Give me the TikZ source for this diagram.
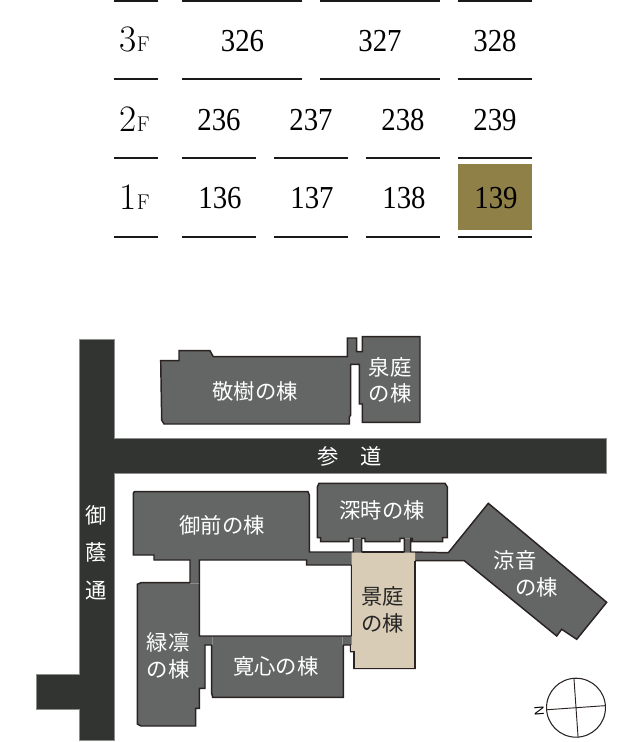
\documentclass[tikz,border=0pt]{standalone}
\usepackage{fontspec}
\newfontfamily\roomfont[FakeStretch=0.9]{Liberation Serif}
\newfontfamily\mapfont{Noto Sans CJK JP}
\setsansfont{Liberation Sans}
\definecolor{roadgray}{HTML}{323432}
\definecolor{roadedge}{HTML}{8C8E8C}
\definecolor{hallgray}{HTML}{646665}
\definecolor{hallline}{HTML}{2A2322}
\definecolor{hallseam}{HTML}{8A8C8A}
\definecolor{tanfill}{HTML}{D8CCB6}
\definecolor{goldfill}{HTML}{8F8048}
\tikzset{
  floorrule/.style={line width=1.7pt, black!90},
  room/.style={inner sep=0pt, font=\roomfont\fontsize{24}{24}\selectfont},
  floorlab/.style={inner sep=0pt, anchor=base west},
  hall/.style={inner sep=0pt, align=center, text=white, font=\mapfont\fontsize{16}{20}\selectfont},
  hallstroke/.style={draw=hallline, line width=1.1pt},
  seam/.style={line width=.5pt, hallseam}
}
\newcommand{\floornum}[1]{{\rmfamily\fontsize{28}{28}\selectfont #1}{\rmfamily\fontsize{16}{16}\selectfont F}}
\begin{document}
\begin{tikzpicture}[x=.75pt, y=-.75pt]
	\useasboundingbox (0, 0) rectangle (642, 742);

	% room table
	\draw[floorrule] (114, .8) -- (158, .8);
	\draw[floorrule] (182, .8) -- (302, .8);
	\draw[floorrule] (320, .8) -- (440, .8);
	\draw[floorrule] (458, .8) -- (532, .8);
	\draw[floorrule] (114, 79) -- (158, 79);
	\draw[floorrule] (182, 79) -- (302, 79);
	\draw[floorrule] (320, 79) -- (440, 79);
	\draw[floorrule] (458, 79) -- (532, 79);
	\draw[floorrule] (114, 158) -- (158, 158);
	\draw[floorrule] (182, 158) -- (256, 158);
	\draw[floorrule] (274, 158) -- (348, 158);
	\draw[floorrule] (366, 158) -- (440, 158);
	\draw[floorrule] (458, 158) -- (532, 158);
	\draw[floorrule] (114, 237) -- (158, 237);
	\draw[floorrule] (182, 237) -- (256, 237);
	\draw[floorrule] (274, 237) -- (348, 237);
	\draw[floorrule] (366, 237) -- (440, 237);
	\draw[floorrule] (458, 237) -- (532, 237);
	\fill[goldfill] (458, 164) rectangle (532, 230);

	\node[floorlab] (f3) at (119.5, 52) {\floornum{3}};
	\node[floorlab] (f2) at (119.5, 131) {\floornum{2}};
	\node[floorlab] (f1) at (119.5, 209.5) {\floornum{1}};

	\node[room] (r326) at (242.5, 41) {326};
	\node[room] (r327) at (380, 41) {327};
	\node[room] (r328) at (495, 41) {328};
	\node[room] (r236) at (219, 120) {236};
	\node[room] (r237) at (311, 120) {237};
	\node[room] (r238) at (403, 120) {238};
	\node[room] (r239) at (495, 120) {239};
	\node[room] (r136) at (220, 198.5) {136};
	\node[room] (r137) at (312, 198.5) {137};
	\node[room] (r138) at (404, 198.5) {138};
	\node[room] (r139) at (496, 198.5) {139};

	% roads
	\draw[fill=roadgray, draw=roadedge, line width=.5pt] (79.5, 339) -- (114, 339) -- (114, 438.3)
		-- (606.7, 438.3) -- (606.7, 473.3) -- (114, 473.3) -- (114, 740) -- (79.5, 740)
		-- (79.5, 709.3) -- (36, 709.3) -- (36, 674.3) -- (79.5, 674.3) -- cycle;

	% north block, one outline
	\draw[fill=hallgray, hallstroke] (160.7, 360.7) -- (179, 360.7) -- (179, 350.7)
		-- (210, 350.7) -- (213.3, 356.7) -- (347.3, 356.7) -- (347.3, 338) -- (356.7, 338) -- (356.7, 351.7)
		-- (362.3, 351.7) -- (362.3, 336.7) -- (420, 336.7) -- (420, 422.3) -- (362.3, 422.3) -- (362.3, 404)
		-- (359.3, 404) -- (359.3, 364.3) -- (350.7, 364.3) -- (350.7, 415) -- (349.3, 417) -- (349.3, 424)
		-- (164, 424) -- (161.7, 420) -- cycle;

	% south block: gray outline with the two yards cut out
	\draw[fill=hallgray, hallstroke, even odd rule]
		(134.5, 491.7) -- (308, 491.7) -- (309.3, 495) -- (309.3, 552) -- (353.3, 552) -- (353.3, 538.3)
		-- (349, 538.3) -- (349, 541.7) -- (320.7, 541.7) -- (320.7, 537.7) -- (317.3, 537.7) -- (317.3, 487)
		-- (319, 483.3) -- (445, 483.3) -- (447.3, 487) -- (447.3, 537.7) -- (442.7, 537.7) -- (442.7, 541.7)
		-- (412.3, 541.7) -- (412.3, 538.3) -- (410.7, 538.3) -- (410.7, 552) -- (448.3, 552.7) -- (488.3, 503.3)
		-- (606.7, 602.3) -- (576.7, 639.3) -- (561.7, 629.3) -- (556.7, 636) -- (464.3, 560.7) -- (415, 560.7)
		-- (415, 668.3) -- (354, 668.3) -- (354, 651.7) -- (350.7, 651.7) -- (350.7, 645) -- (343.3, 645)
		-- (343.3, 697.3) -- (212.7, 697.3) -- (211.7, 693.3) -- (211.7, 645) -- (205, 645) -- (205, 688.3)
		-- (199.3, 688.3) -- (199.3, 708.3) -- (195.7, 708.3) -- (195.7, 726) -- (141, 726) -- (137.3, 724)
		-- (137.3, 584.3) -- (141, 582.7) -- (190, 582.7) -- (190, 560) -- (154, 560) -- (154, 555)
		-- (133.3, 555) -- (133.3, 493) -- cycle
		(199.3, 560) -- (306.7, 560) -- (306.7, 565) -- (351.7, 565) -- (351.7, 636) -- (199.3, 636) -- cycle
		(361.7, 552) -- (361.7, 538.3) -- (365, 538.3) -- (365, 541.7) -- (400, 541.7) -- (400, 538.3)
		-- (404.3, 538.3) -- (404.3, 552) -- cycle;

	% tan hall on top
	\fill[tanfill] (351.7, 552.7) -- (415, 552.7) -- (415, 668.3) -- (354, 668.3) -- (354, 651.7)
		-- (350.7, 651.7) -- (350.7, 645) -- (351.7, 645) -- cycle;
	\draw[hallstroke] (415, 560.7) -- (415, 668.3) -- (354, 668.3) -- (354, 651.7)
		-- (350.7, 651.7) -- (350.7, 645);
	\draw[hallstroke] (351.7, 565) -- (351.7, 636);
	\draw[hallstroke] (361.7, 552) -- (404.3, 552);

	% faint joints between halls
	\draw[seam] (190, 583) -- (199.3, 583);
	\draw[seam] (212.5, 636.5) -- (212.5, 645);
	\draw[seam] (342, 636.5) -- (342, 645);
	\draw[seam] (353.7, 538.5) -- (361.3, 538.5);
	\draw[seam] (404.7, 538.5) -- (410.3, 538.5);

	% labels
	\node[hall] (keiju) at (255, 391.7) {敬樹の棟};
	\node[hall] (sentei) at (390, 380.3) {泉庭\\の棟};
	\node[hall] (sando) at (349.8, 456.7) {参　道};
	\node[hall, font=\mapfont\fontsize{16}{28.1}\selectfont] (misakage) at (96, 552.5) {御\\蔭\\通};
	\node[hall] (gozen) at (222.3, 525.7) {御前の棟};
	\node[hall] (shinji) at (382.2, 510) {深時の棟};
	\node[hall, text=black!85] (keitei) at (382.8, 610) {景庭\\の棟};
	\node[hall] (ryoon1) at (515, 560.7) {涼音};
	\node[hall] (ryoon2) at (536.7, 587.3) {の棟};
	\node[hall] (ryokurin) at (168, 655.8) {緑凛\\の棟};
	\node[hall] (kanshin) at (275.8, 666.7) {寛心の棟};

	% compass
	\node[circle, draw=hallline, line width=.8pt, minimum size=44.2pt, inner sep=0pt] (compass) at (576, 707.7) {};
	\draw[hallline, line width=.7pt] (compass.184) -- (compass.4);
	\draw[hallline, line width=.7pt] (compass.94) -- (compass.274);
	\node[inner sep=0pt, rotate=94, font=\sffamily\fontsize{10}{10}\selectfont] (north) at (539.3, 711) {N};
\end{tikzpicture}
\end{document}
